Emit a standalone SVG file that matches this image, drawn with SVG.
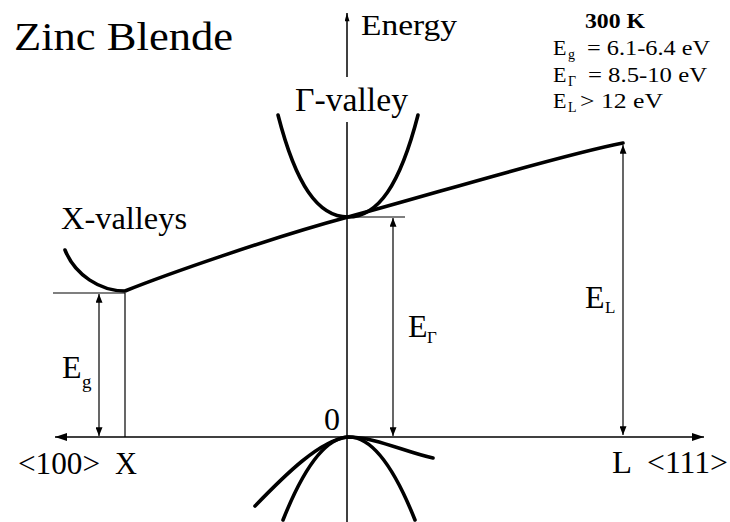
<svg xmlns="http://www.w3.org/2000/svg" width="730" height="522" viewBox="0 0 730 522" font-family="'Liberation Serif', 'Times New Roman', Times, serif">
<style>
text{fill:#000}
.ax{stroke:#000;stroke-width:1.5;fill:none}
.thin{stroke:#000;stroke-width:1.2;fill:none}
.band{stroke:#000;stroke-width:3.6;fill:none;stroke-linecap:round;stroke-linejoin:round}
</style>
<defs>
<marker id="ah" viewBox="0 0 10 8" refX="10" refY="4" markerWidth="9" markerHeight="7" markerUnits="userSpaceOnUse" orient="auto-start-reverse">
<path d="M0,0 L10,4 L0,8 z" fill="#000"/>
</marker>
<marker id="axh" viewBox="0 0 12 8" refX="12" refY="4" markerWidth="12" markerHeight="8" markerUnits="userSpaceOnUse" orient="auto">
<path d="M0,0 L12,4 L0,8 z" fill="#000"/>
</marker>
<marker id="eh" viewBox="0 0 10 6" refX="10" refY="3" markerWidth="9" markerHeight="5" markerUnits="userSpaceOnUse" orient="auto">
<path d="M0,0 L10,3 L0,6 z" fill="#000"/>
</marker>
</defs>

<g id="title">
<text x="14" y="50" font-size="40" textLength="219" lengthAdjust="spacingAndGlyphs">Zinc Blende</text>
</g>

<g id="axes">
<line class="ax" x1="347" y1="77" x2="347" y2="13" marker-end="url(#eh)"/>
<line class="ax" x1="347" y1="122" x2="347" y2="522"/>
<line class="ax" x1="347" y1="437" x2="55" y2="437" marker-end="url(#axh)"/>
<line class="ax" x1="347" y1="437" x2="704" y2="437" marker-end="url(#axh)"/>
<text x="361" y="35" font-size="30" textLength="96" lengthAdjust="spacingAndGlyphs">Energy</text>
<text x="324" y="430" font-size="32">0</text>
<text x="18" y="474" font-size="32" textLength="82" lengthAdjust="spacingAndGlyphs">&lt;100&gt;</text>
<text x="115" y="474" font-size="32" textLength="22" lengthAdjust="spacingAndGlyphs">X</text>
<text x="612" y="473" font-size="32" textLength="20" lengthAdjust="spacingAndGlyphs">L</text>
<text x="647" y="473" font-size="32" textLength="81" lengthAdjust="spacingAndGlyphs">&lt;111&gt;</text>
</g>

<g id="bands">
<path class="band" d="M65,250 C75,275 100,291 125,291 C165,275 270,238 348,217 C430,195 560,155 623,143"/>
<path class="band" d="M278,115 C296,185 318,217 348,217 C378,217 400,185 418,115"/>
<path class="band" d="M283,520 Q349,354 415,520"/>
<path class="band" d="M255,506 C285,475 320,440 348,437 C375,437 405,452 433,458"/>
</g>

<g id="connectors">
<line class="thin" x1="53" y1="293" x2="125" y2="293"/>
<line class="thin" x1="125" y1="293" x2="125" y2="437"/>
<line class="thin" x1="99" y1="294" x2="99" y2="436" marker-start="url(#ah)" marker-end="url(#ah)"/>
<line class="thin" x1="348" y1="217" x2="405" y2="217"/>
<line class="thin" x1="393" y1="218" x2="393" y2="436" marker-start="url(#ah)" marker-end="url(#ah)"/>
<line class="thin" x1="623" y1="145" x2="623" y2="435" marker-start="url(#ah)" marker-end="url(#ah)"/>
</g>

<g id="labels">
<text x="295" y="111" font-size="33" textLength="113" lengthAdjust="spacingAndGlyphs">Γ-valley</text>
<text x="61" y="229" font-size="32" textLength="126" lengthAdjust="spacingAndGlyphs">X-valleys</text>
<text x="62" y="378" font-size="32">E</text>
<text x="82" y="388" font-size="19">g</text>
<text x="408" y="337" font-size="32">E</text>
<text x="427" y="343" font-size="17">Γ</text>
<text x="585" y="308" font-size="32">E</text>
<text x="605" y="313" font-size="17">L</text>
</g>

<g id="legend">
<text x="585" y="28" font-size="21" font-weight="bold" textLength="60" lengthAdjust="spacingAndGlyphs">300 K</text>
<text x="553" y="55" font-size="22">E</text>
<text x="568" y="59" font-size="14">g</text>
<text x="587" y="55" font-size="22" textLength="123" lengthAdjust="spacingAndGlyphs">= 6.1-6.4 eV</text>
<text x="553" y="82" font-size="22">E</text>
<text x="568" y="86" font-size="14">Γ</text>
<text x="588" y="82" font-size="22" textLength="119" lengthAdjust="spacingAndGlyphs">= 8.5-10 eV</text>
<text x="553" y="108" font-size="22">E</text>
<text x="568" y="112" font-size="14">L</text>
<text x="580" y="108" font-size="22" textLength="83" lengthAdjust="spacingAndGlyphs">&gt; 12 eV</text>
</g>
</svg>
